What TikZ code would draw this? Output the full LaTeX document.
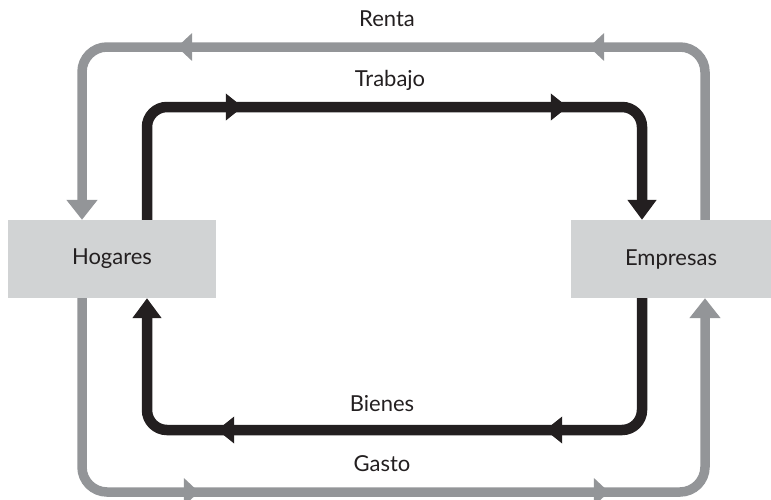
\documentclass[tikz,border=0pt]{standalone}
\usepackage{fontspec}
\setmainfont{Lato}
\usetikzlibrary{arrows.meta,decorations.markings}
\definecolor{flowgray}{HTML}{939598}
\definecolor{boxgray}{HTML}{D1D3D4}
\definecolor{ink}{HTML}{231F20}
\tikzset{
  agent/.style={fill=boxgray, draw=none, minimum height=78pt, inner sep=0pt, font=\fontsize{22}{26}\selectfont, text=ink},
  lbl/.style={font=\fontsize{22}{26}\selectfont, text=ink, inner sep=0pt},
  grayflow/.style={draw=flowgray, line width=9.5pt, rounded corners=25pt},
  blackflow/.style={draw=ink, line width=10.5pt, rounded corners=20pt},
  grayhead/.style={-{Triangle[length=20pt,width=30pt]}},
  blackhead/.style={-{Triangle[length=20pt,width=28pt]}},
  gmarks/.style 2 args={postaction={decorate}, decoration={markings,
     mark=at position #1 with {\arrow[flowgray]{Triangle[length=15pt,width=27pt]}},
     mark=at position #2 with {\arrow[flowgray]{Triangle[length=15pt,width=27pt]}}}},
  bmarks/.style 2 args={postaction={decorate}, decoration={markings,
     mark=at position #1 with {\arrow[ink]{Triangle[length=17pt,width=26pt]}},
     mark=at position #2 with {\arrow[ink]{Triangle[length=17pt,width=26pt]}}}},
}
\begin{document}
\begin{tikzpicture}[x=1pt,y=-1pt]
\useasboundingbox (0,0) rectangle (771,499);
\node[agent, minimum width=208pt] (hog) at (112,259) {Hogares};
\node[agent, minimum width=200pt] (emp) at (671,259) {Empresas};
% line x positions and levels
\coordinate (gL) at (82,47);
\coordinate (gR) at (705,492);
\coordinate (bL) at (147,107);
\coordinate (bR) at (642,430);
% Renta (gray, top)
\draw[grayflow, grayhead, gmarks={278pt}{690pt}]
  (gR |- emp.north) -- (gR |- gL) -- (gL) -- (gL |- hog.north);
% Trabajo (black, top)
\draw[blackflow, blackhead, bmarks={200pt}{525pt}]
  (bL |- hog.north) -- (bL) -- (bR |- bL) -- (bR |- emp.north);
% Bienes (black, bottom)
\draw[blackflow, blackhead, bmarks={220pt}{548pt}]
  (bR |- emp.south) -- (bR) -- (bL |- bR) -- (bL |- hog.south);
% Gasto (gray, bottom)
\draw[grayflow, grayhead, gmarks={300pt}{710pt}]
  (gL |- hog.south) -- (gL |- gR) -- (gR) -- (gR |- emp.south);
\node[lbl] (renta) at (387,19) {Renta};
\node[lbl] (trabajo) at (390,80) {Trabajo};
\node[lbl] (bienes) at (382,404) {Bienes};
\node[lbl] (gasto) at (382,464) {Gasto};
\end{tikzpicture}
\end{document}
